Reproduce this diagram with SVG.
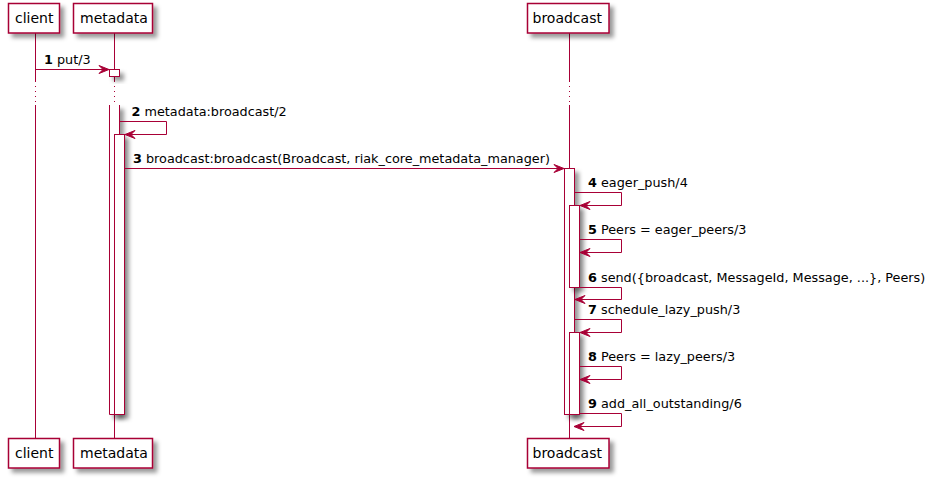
<svg xmlns="http://www.w3.org/2000/svg" width="936" height="479" viewBox="0 0 936 479">
<defs>
<filter id="sh" x="-1" y="-1" width="300%" height="300%">
<feGaussianBlur in="SourceAlpha" stdDeviation="2" result="b"/>
<feColorMatrix in="b" type="matrix" values="0 0 0 0 0 0 0 0 0 0 0 0 0 0 0 0 0 0 .4 0" result="b2"/>
<feOffset in="b2" dx="4" dy="4" result="b3"/>
<feBlend in="SourceGraphic" in2="b3" mode="normal"/>
</filter>
<marker id="ah" viewBox="-1 -1 12 10" refX="10" refY="4" markerWidth="12" markerHeight="10" markerUnits="userSpaceOnUse" orient="auto">
<polygon points="0,0 10,4 0,8 4,4" fill="#A80036" stroke="#A80036" stroke-width="1"/>
</marker>
</defs>
<style>
.box{fill:#FFFFFF;stroke:#A80036;stroke-width:1.5}
.pt{font-family:"DejaVu Sans",sans-serif;font-size:14px;fill:#000}
.life{stroke:#A80036;stroke-width:1;fill:none}
.dot{stroke:#A80036;stroke-width:1;stroke-dasharray:1,4;fill:none}
.act{fill:#FFFFFF;stroke:#A80036;stroke-width:1}
.msg{stroke:#A80036;stroke-width:1;fill:none;marker-end:url(#ah)}
.lbl{font-family:"DejaVu Sans",sans-serif;font-size:12.8px;fill:#000}
.lbl tspan.n{font-weight:bold}
</style>
<rect width="936" height="479" fill="#FFFFFF"/>

<g id="lifelines">
<line class="life" x1="35.5" y1="33" x2="35.5" y2="81"/>
<line class="dot" x1="35.5" y1="81" x2="35.5" y2="105"/>
<line class="life" x1="35.5" y1="105" x2="35.5" y2="438"/>
<line class="life" x1="114.5" y1="33" x2="114.5" y2="81"/>
<line class="dot" x1="114.5" y1="81" x2="114.5" y2="105"/>
<line class="life" x1="114.5" y1="105" x2="114.5" y2="438"/>
<line class="life" x1="569.5" y1="33" x2="569.5" y2="81"/>
<line class="dot" x1="569.5" y1="81" x2="569.5" y2="105"/>
<line class="life" x1="569.5" y1="105" x2="569.5" y2="438"/>
</g>

<g id="client">
<rect class="box" x="8.5" y="3.5" width="51" height="29.5" filter="url(#sh)"/>
<text class="pt" x="15" y="22.7">client</text>
<rect class="box" x="8.5" y="438.5" width="51" height="29.5" filter="url(#sh)"/>
<text class="pt" x="15" y="457.7">client</text>
</g>

<g id="metadata">
<rect class="box" x="73.5" y="3.5" width="79" height="29.5" filter="url(#sh)"/>
<text class="pt" x="80" y="22.7">metadata</text>
<rect class="box" x="73.5" y="438.5" width="79" height="29.5" filter="url(#sh)"/>
<text class="pt" x="80" y="457.7">metadata</text>
<rect class="act" x="109.5" y="69.5" width="10" height="7" filter="url(#sh)"/>
<g filter="url(#sh)">
<rect x="109.5" y="105" width="10" height="309.5" fill="#FFFFFF"/>
<path class="act" d="M109.5,105 V414.5 H119.5 V105"/>
</g>
<rect class="act" x="114.5" y="134.5" width="10" height="280" filter="url(#sh)"/>
</g>

<g id="broadcast">
<rect class="box" x="527.5" y="3.5" width="81.5" height="29.5" filter="url(#sh)"/>
<text class="pt" x="532.5" y="22.7">broadcast</text>
<rect class="box" x="527.5" y="438.5" width="81.5" height="29.5" filter="url(#sh)"/>
<text class="pt" x="532.5" y="457.7">broadcast</text>
<rect class="act" x="564.5" y="168.5" width="10" height="246" filter="url(#sh)"/>
<rect class="act" x="569.5" y="205.5" width="10" height="82" filter="url(#sh)"/>
<rect class="act" x="569.5" y="332.5" width="10" height="82" filter="url(#sh)"/>
</g>

<g id="connectors">
<line class="msg" x1="35.5" y1="69.5" x2="109" y2="69.5"/>
<text class="lbl" x="44" y="64"><tspan class="n">1</tspan> put/3</text>

<polyline class="msg" points="119.5,121.5 166.5,121.5 166.5,134.5 125,134.5"/>
<text class="lbl" x="131.5" y="116"><tspan class="n">2</tspan> metadata:broadcast/2</text>

<line class="msg" x1="124.5" y1="168.5" x2="564" y2="168.5"/>
<text class="lbl" x="133" y="163"><tspan class="n">3</tspan> broadcast:broadcast(Broadcast, riak_core_metadata_manager)</text>

<polyline class="msg" points="574.5,192.5 621.5,192.5 621.5,205.5 580,205.5"/>
<text class="lbl" x="588" y="187"><tspan class="n">4</tspan> eager_push/4</text>

<polyline class="msg" points="579.5,239.5 621.5,239.5 621.5,252.5 580,252.5"/>
<text class="lbl" x="588" y="234"><tspan class="n">5</tspan> Peers = eager_peers/3</text>

<polyline class="msg" points="579.5,287.5 621.5,287.5 621.5,299.5 575,299.5"/>
<text class="lbl" x="588" y="282"><tspan class="n">6</tspan> send({broadcast, MessageId, Message, ...}, Peers)</text>

<polyline class="msg" points="574.5,319.5 621.5,319.5 621.5,332.5 580,332.5"/>
<text class="lbl" x="588" y="314"><tspan class="n">7</tspan> schedule_lazy_push/3</text>

<polyline class="msg" points="579.5,366.5 621.5,366.5 621.5,379.5 580,379.5"/>
<text class="lbl" x="588" y="361"><tspan class="n">8</tspan> Peers = lazy_peers/3</text>

<polyline class="msg" points="579.5,413.5 621.5,413.5 621.5,426.5 574,426.5"/>
<text class="lbl" x="588" y="408"><tspan class="n">9</tspan> add_all_outstanding/6</text>
</g>
</svg>
